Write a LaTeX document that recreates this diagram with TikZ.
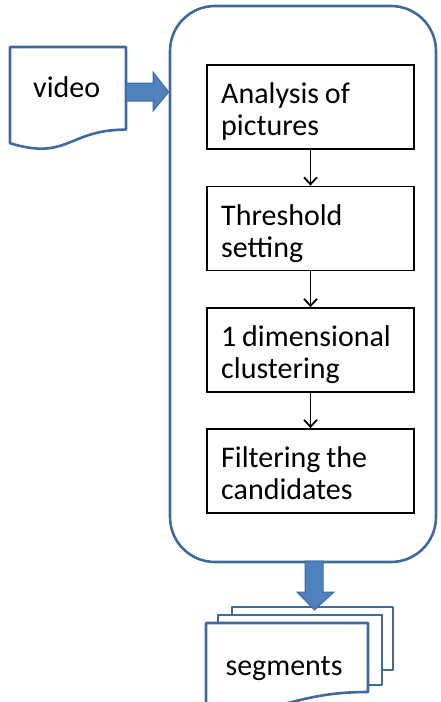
\documentclass[tikz,border=0pt]{standalone}
\usepackage{fontspec}
\setmainfont[WordSpace=0.85]{Carlito}
\usetikzlibrary{arrows.meta}
\definecolor{ol}{RGB}{63,106,158}
\definecolor{fl}{RGB}{79,129,189}
\tikzset{
  stepbox/.style={draw=black, line width=1.8pt, rectangle, minimum width=207pt, minimum height=84pt, inner sep=0pt},
  steptext/.style={anchor=base west, inner sep=0pt, font=\fontsize{30}{32}\selectfont},
  flow/.style={line width=1.8pt, -{Straight Barb[length=7pt,width=13pt,line width=1.8pt]}},
  docline/.style={draw=ol, line width=2.6pt, fill=white, line join=round},
  blockarrow/.style={fill=fl, draw=ol, line width=1pt},
  lbl/.style={inner sep=0pt, font=\fontsize{30}{35}\selectfont}
}
\newcommand{\twolines}[2]{\parbox[t]{185pt}{\raggedright #1\\#2}}
\begin{document}
\begin{tikzpicture}[x=1pt,y=-1pt]
\useasboundingbox (0,0) rectangle (440,702);
\fill[white] (0,0) rectangle (440,702);
% container
\node[draw=ol, line width=2.6pt, rounded corners=45pt, minimum width=266pt, minimum height=556pt, inner sep=0pt] (cont) at (303,284) {};
% boxes
\node[stepbox] (b1) at (310.5,107) {};
\node[stepbox] (b2) at (310.5,228.5) {};
\node[stepbox] (b3) at (310.5,350) {};
\node[stepbox] (b4) at (310.5,471) {};
\node[steptext] (t1) at (221,103) {\twolines{Analysis of}{pictures}};
\node[steptext] (t2) at (221,225) {\twolines{Threshold}{setting}};
\node[steptext] (t3) at (221,346) {\twolines{1 dimensional}{clustering}};
\node[steptext] (t4) at (221,467) {\twolines{Filtering the}{candidates}};
\draw[flow] (b1.south) -- (b2.north);
\draw[flow] (b2.south) -- (b3.north);
\draw[flow] (b3.south) -- (b4.north);
% video document
\path[docline] (10,47) -- (126,47) -- (126,129.6) .. controls (68,129.6) and (68,161) .. (10,143.2) -- cycle;
\node[lbl, anchor=base west] (video) at (33,97) {video};
% arrow video -> container
\coordinate (vtip) at (cont.west |- 0,92);
\path[blockarrow] (126,83) -- (153,83) -- (153,72) -- (vtip) -- (153,111) -- (153,101) -- (126,101) -- cycle;
% segments multi-document
\path[docline] (232,607) -- (393,607) -- (393,670) -- (382,670) -- (382,615) -- (232,615) -- cycle;
\path[docline] (218,615) -- (382,615) -- (382,685) -- (368,685) -- (368,623) -- (218,623) -- cycle;
\path[docline] (206,623) -- (368,623) -- (368,692) .. controls (287,692) and (287,718) .. (206,703.3) -- cycle;
\node[lbl, anchor=base] (seg) at (284,675) {segments};
% arrow container -> segments
\path[blockarrow] (305,561) -- (323,561) -- (323,592) -- (334,592) -- (314.5,610) -- (297,592) -- (305,592) -- cycle;
\end{tikzpicture}
\end{document}
